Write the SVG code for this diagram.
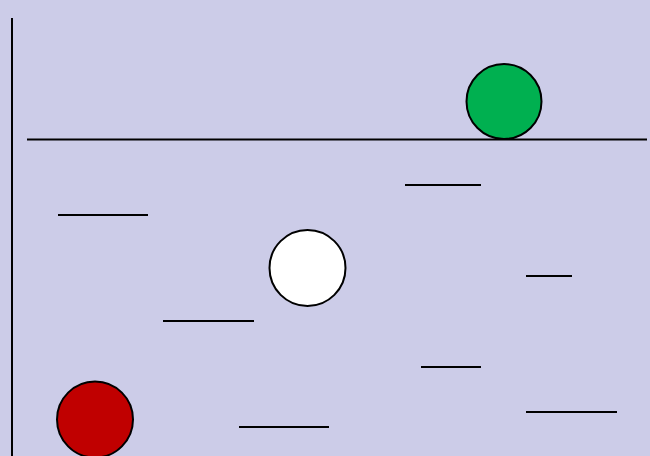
<svg xmlns="http://www.w3.org/2000/svg" width="650" height="456" viewBox="0 0 650 456">
<style>
.ln{stroke:#000;stroke-width:2;fill:none}
.ball{stroke:#000;stroke-width:2}
</style>
<rect x="0" y="0" width="650" height="456" fill="#CCCCE8"/>
<g id="connectors">
<line class="ln" x1="12" y1="18" x2="12" y2="456"/>
<line class="ln" x1="27" y1="139.5" x2="647" y2="139.5"/>
<line class="ln" x1="405" y1="185" x2="481" y2="185"/>
<line class="ln" x1="58" y1="215" x2="148" y2="215"/>
<line class="ln" x1="526" y1="276" x2="572" y2="276"/>
<line class="ln" x1="163" y1="321" x2="254" y2="321"/>
<line class="ln" x1="421" y1="367" x2="481" y2="367"/>
<line class="ln" x1="526" y1="412" x2="617" y2="412"/>
<line class="ln" x1="239" y1="427" x2="329" y2="427"/>
</g>
<g id="green"><circle class="ball" cx="504" cy="101.5" r="37.5" fill="#00B050"/></g>
<g id="white"><circle class="ball" cx="307.5" cy="268" r="38" fill="#FFFFFF"/></g>
<g id="red"><circle class="ball" cx="95" cy="419.5" r="38" fill="#C00000"/></g>
</svg>
